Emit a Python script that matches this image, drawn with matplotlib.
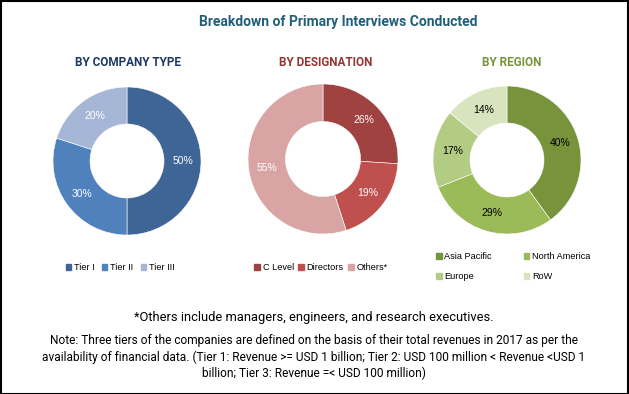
import matplotlib
matplotlib.use("Agg")
import matplotlib.pyplot as plt
from matplotlib.patches import Rectangle, Patch

# data
company_labels = ["Tier I", "Tier II", "Tier III"]
company_values = [50, 30, 20]
designation_labels = ["C Level", "Directors", "Others*"]
designation_values = [26, 19, 55]
region_labels = ["Asia Pacific", "North America", "Europe", "RoW"]
region_values = [40, 29, 17, 14]

company_colors = ["#3F6597", "#4F81BD", "#A6B6D7"]
designation_colors = ["#A04240", "#C0504D", "#D9A5A4"]
region_colors = ["#77933C", "#9BBB59", "#B3CC84", "#D7E4BD"]

W, H = 629, 394
fig = plt.figure(figsize=(W / 100, H / 100), dpi=100)

narrow = ["Roboto", "DejaVu Sans"]
plain = ["Liberation Sans", "DejaVu Sans"]


def donut(cx, cy, r, values, colors, txtcolor):
    ax = fig.add_axes([(cx - r) / W, 1 - (cy + r) / H, 2 * r / W, 2 * r / H])
    ax.pie(values, colors=colors, startangle=90, counterclock=False,
           wedgeprops=dict(width=0.5, edgecolor="white", linewidth=0.4),
           autopct="%d%%", pctdistance=0.75,
           textprops=dict(color=txtcolor, fontsize=7.5, family=plain))
    ax.set_xlim(-1, 1)
    ax.set_ylim(-1, 1)
    ax.axis("off")
    return ax


donut(127, 161, 74, company_values, company_colors, "white")
donut(323, 159, 75, designation_values, designation_colors, "white")
donut(507, 160, 74, region_values, region_colors, "black")

# titles
fig.text(338 / W, 1 - 22 / H, "Breakdown of Primary Interviews Conducted", ha="center", va="center",
         fontsize=10, fontweight="bold", color="#215E79", family=narrow)
fig.text(128 / W, 1 - 63 / H, "BY COMPANY TYPE", ha="center", va="center",
         fontsize=8.5, fontweight="bold", color="#1F3864", family=narrow)
fig.text(326 / W, 1 - 63 / H, "BY DESIGNATION", ha="center", va="center",
         fontsize=8.5, fontweight="bold", color="#943634", family=narrow)
fig.text(512 / W, 1 - 63 / H, "BY REGION", ha="center", va="center",
         fontsize=8.5, fontweight="bold", color="#77933C", family=narrow)

# legends
leg_kw = dict(frameon=False, handlelength=0.6, handleheight=0.6, handletextpad=0.3,
              prop=dict(family=plain, size=6.6), borderpad=0, borderaxespad=0)
fig.legend([Patch(color=c) for c in company_colors], company_labels, ncol=3, columnspacing=0.8,
           loc="center", bbox_to_anchor=(120 / W, 1 - 268 / H), **leg_kw)
fig.legend([Patch(color=c) for c in designation_colors], designation_labels, ncol=3, columnspacing=0.5,
           loc="center", bbox_to_anchor=(321 / W, 1 - 268 / H), **leg_kw)
order = [0, 2, 1, 3]
fig.legend([Patch(color=region_colors[i]) for i in order], [region_labels[i] for i in order],
           ncol=2, columnspacing=3.5, labelspacing=1.2, loc="upper left",
           bbox_to_anchor=(436 / W, 1 - 252 / H), **leg_kw)

# footnotes
fig.text(314 / W, 1 - 317 / H, "*Others include managers, engineers, and research executives.",
         ha="center", va="center", fontsize=9.3, family=narrow)
fig.text(314 / W, 1 - 357 / H,
         "Note: Three tiers of the companies are defined on the basis of their total revenues in 2017 as per the\n"
         "availability of financial data. (Tier 1: Revenue >= USD 1 billion; Tier 2: USD 100 million < Revenue <USD 1\n"
         "billion; Tier 3: Revenue =< USD 100 million)",
         ha="center", va="center", fontsize=8.6, family=narrow, linespacing=1.3)

# border
fig.patches.append(Rectangle((0.5 / W, 0.5 / H), 1 - 1.5 / W, 1 - 1.5 / H, transform=fig.transFigure,
                             fill=False, edgecolor="black", linewidth=1.5))

fig.savefig("out.png", dpi=100)
